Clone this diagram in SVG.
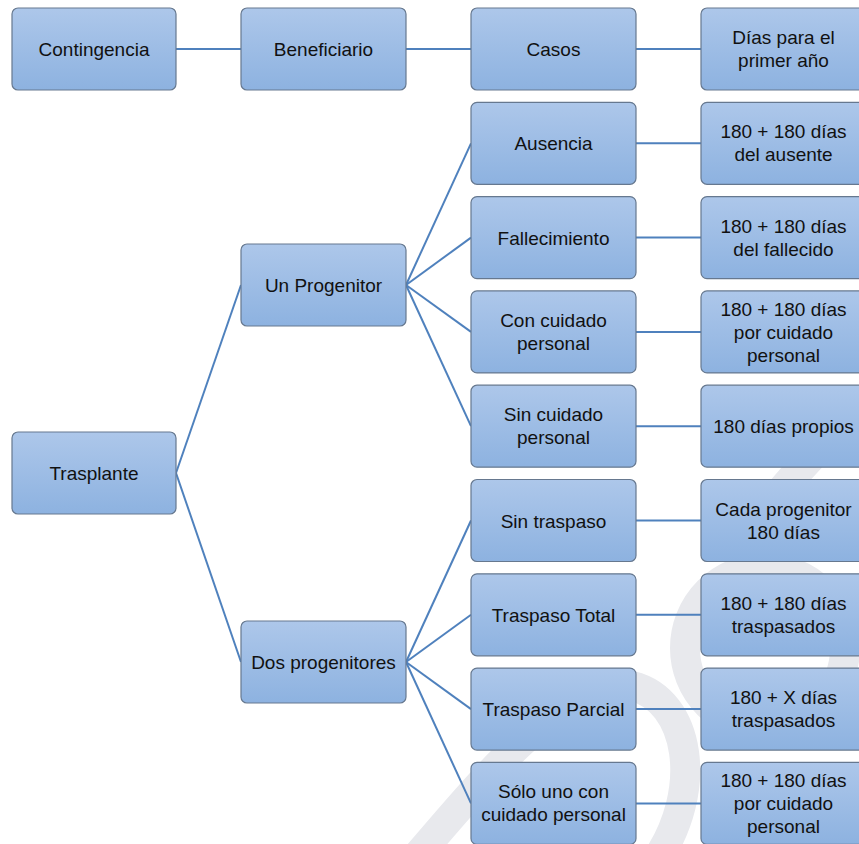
<svg xmlns="http://www.w3.org/2000/svg" width="859" height="844" viewBox="0 0 859 844">
<defs>
<linearGradient id="g" x1="0" y1="0" x2="0" y2="1">
<stop offset="0" stop-color="#adc7ea"/>
<stop offset="1" stop-color="#8db2e0"/>
</linearGradient>
<style>
.b{fill:url(#g);stroke:#66788f;stroke-width:1.2}
.t{font-family:"Liberation Sans",Arial,sans-serif;font-size:19px;fill:#111111;text-anchor:middle}
.c{stroke:#4f81bd;stroke-width:2;fill:none}
.w{stroke:#e8e9ed;fill:none;stroke-width:30}
</style>
</defs>
<rect width="859" height="844" fill="#ffffff"/>
<g id="watermark">
<circle class="w" cx="765" cy="648" r="80"/>
<path class="w" d="M 850 420 C 815 450, 785 485, 745 535"/>
<path class="w" d="M 412 862 C 475 790, 560 680, 632 686 C 690 700, 705 790, 655 862"/>
</g>
<g id="connectors">
<line class="c" x1="176" y1="49" x2="241" y2="49"/>
<line class="c" x1="406" y1="49" x2="471" y2="49"/>
<line class="c" x1="636" y1="49" x2="701" y2="49"/>
<line class="c" x1="176" y1="473" x2="241" y2="285"/>
<line class="c" x1="176" y1="473" x2="241" y2="662"/>
<line class="c" x1="406" y1="285" x2="471" y2="143.3"/>
<line class="c" x1="406" y1="285" x2="471" y2="237.6"/>
<line class="c" x1="406" y1="285" x2="471" y2="331.9"/>
<line class="c" x1="406" y1="285" x2="471" y2="426.2"/>
<line class="c" x1="406" y1="662" x2="471" y2="520.5"/>
<line class="c" x1="406" y1="662" x2="471" y2="614.8"/>
<line class="c" x1="406" y1="662" x2="471" y2="709.1"/>
<line class="c" x1="406" y1="662" x2="471" y2="803.4"/>
<line class="c" x1="636" y1="143.3" x2="701" y2="143.3"/>
<line class="c" x1="636" y1="237.6" x2="701" y2="237.6"/>
<line class="c" x1="636" y1="331.9" x2="701" y2="331.9"/>
<line class="c" x1="636" y1="426.2" x2="701" y2="426.2"/>
<line class="c" x1="636" y1="520.5" x2="701" y2="520.5"/>
<line class="c" x1="636" y1="614.8" x2="701" y2="614.8"/>
<line class="c" x1="636" y1="709.1" x2="701" y2="709.1"/>
<line class="c" x1="636" y1="803.4" x2="701" y2="803.4"/>
</g>
<g id="n-contingencia"><rect class="b" x="12" y="8" width="164" height="82" rx="6"/><text class="t" x="94" y="56">Contingencia</text></g>
<g id="n-beneficiario"><rect class="b" x="241" y="8" width="165" height="82" rx="6"/><text class="t" x="323.5" y="56">Beneficiario</text></g>
<g id="n-casos"><rect class="b" x="471" y="8" width="165" height="82" rx="6"/><text class="t" x="553.5" y="56">Casos</text></g>
<g id="n-dias"><rect class="b" x="701" y="8" width="165" height="82" rx="6"/><text class="t" x="783.5" y="44">Días para el</text><text class="t" x="783.5" y="67">primer año</text></g>
<g id="n-trasplante"><rect class="b" x="12" y="432" width="164" height="82" rx="6"/><text class="t" x="94" y="480">Trasplante</text></g>
<g id="n-unprogenitor"><rect class="b" x="241" y="244" width="165" height="82" rx="6"/><text class="t" x="323.5" y="292">Un Progenitor</text></g>
<g id="n-dosprogenitores"><rect class="b" x="241" y="621" width="165" height="82" rx="6"/><text class="t" x="323.5" y="669">Dos progenitores</text></g>
<g id="n-ausencia"><rect class="b" x="471" y="102.3" width="165" height="82" rx="6"/><text class="t" x="553.5" y="150.3">Ausencia</text></g>
<g id="n-ausencia-dias"><rect class="b" x="701" y="102.3" width="165" height="82" rx="6"/><text class="t" x="783.5" y="138.3">180 + 180 días</text><text class="t" x="783.5" y="161.3">del ausente</text></g>
<g id="n-fallecimiento"><rect class="b" x="471" y="196.6" width="165" height="82" rx="6"/><text class="t" x="553.5" y="244.6">Fallecimiento</text></g>
<g id="n-fallecimiento-dias"><rect class="b" x="701" y="196.6" width="165" height="82" rx="6"/><text class="t" x="783.5" y="232.6">180 + 180 días</text><text class="t" x="783.5" y="255.6">del fallecido</text></g>
<g id="n-concuidado"><rect class="b" x="471" y="290.9" width="165" height="82" rx="6"/><text class="t" x="553.5" y="326.9">Con cuidado</text><text class="t" x="553.5" y="349.9">personal</text></g>
<g id="n-concuidado-dias"><rect class="b" x="701" y="290.9" width="165" height="82" rx="6"/><text class="t" x="783.5" y="315.9">180 + 180 días</text><text class="t" x="783.5" y="338.9">por cuidado</text><text class="t" x="783.5" y="361.9">personal</text></g>
<g id="n-sincuidado"><rect class="b" x="471" y="385.2" width="165" height="82" rx="6"/><text class="t" x="553.5" y="421.2">Sin cuidado</text><text class="t" x="553.5" y="444.2">personal</text></g>
<g id="n-sincuidado-dias"><rect class="b" x="701" y="385.2" width="165" height="82" rx="6"/><text class="t" x="783.5" y="433.2">180 días propios</text></g>
<g id="n-sintraspaso"><rect class="b" x="471" y="479.5" width="165" height="82" rx="6"/><text class="t" x="553.5" y="527.5">Sin traspaso</text></g>
<g id="n-sintraspaso-dias"><rect class="b" x="701" y="479.5" width="165" height="82" rx="6"/><text class="t" x="783.5" y="515.5">Cada progenitor</text><text class="t" x="783.5" y="538.5">180 días</text></g>
<g id="n-traspasototal"><rect class="b" x="471" y="573.8" width="165" height="82" rx="6"/><text class="t" x="553.5" y="621.8">Traspaso Total</text></g>
<g id="n-traspasototal-dias"><rect class="b" x="701" y="573.8" width="165" height="82" rx="6"/><text class="t" x="783.5" y="609.8">180 + 180 días</text><text class="t" x="783.5" y="632.8">traspasados</text></g>
<g id="n-traspasoparcial"><rect class="b" x="471" y="668.1" width="165" height="82" rx="6"/><text class="t" x="553.5" y="716.1">Traspaso Parcial</text></g>
<g id="n-traspasoparcial-dias"><rect class="b" x="701" y="668.1" width="165" height="82" rx="6"/><text class="t" x="783.5" y="704.1">180 + X días</text><text class="t" x="783.5" y="727.1">traspasados</text></g>
<g id="n-solouno"><rect class="b" x="471" y="762.4" width="165" height="82" rx="6"/><text class="t" x="553.5" y="798.4">Sólo uno con</text><text class="t" x="553.5" y="821.4">cuidado personal</text></g>
<g id="n-solouno-dias"><rect class="b" x="701" y="762.4" width="165" height="82" rx="6"/><text class="t" x="783.5" y="787.4">180 + 180 días</text><text class="t" x="783.5" y="810.4">por cuidado</text><text class="t" x="783.5" y="833.4">personal</text></g>
</svg>
